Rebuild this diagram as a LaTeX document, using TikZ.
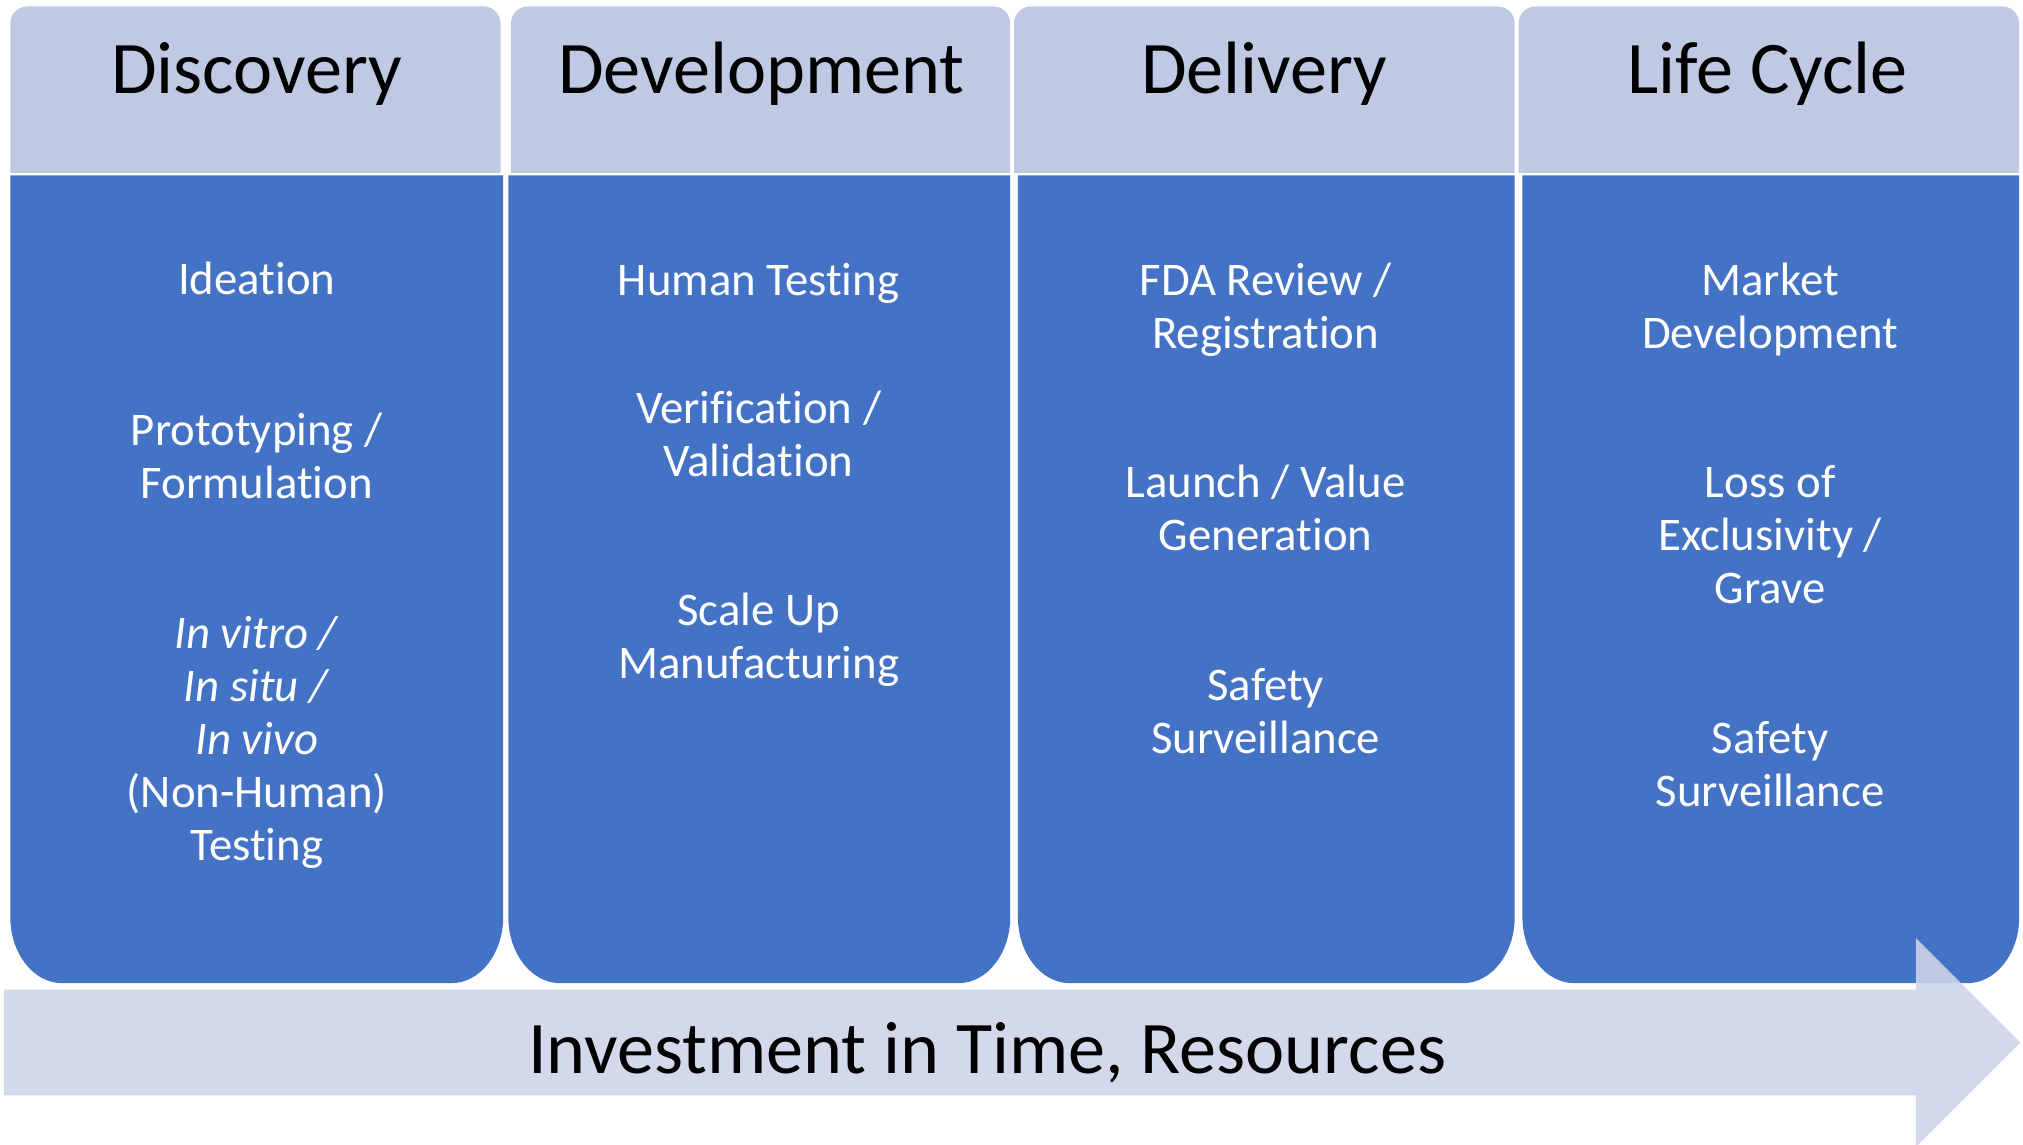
\documentclass[tikz,border=0pt]{standalone}
\usepackage{fontspec}
\setmainfont{Carlito}[Ligatures={NoCommon,NoRequired,NoContextual}]
\definecolor{hdrfill}{RGB}{191,201,227}
\definecolor{bodyfill}{RGB}{68,114,196}
\definecolor{arrowfill}{RGB}{206,212,233}
\begin{document}
\begin{tikzpicture}[x=0.0129cm,y=-0.0129cm,
  hdrshape/.style={fill=hdrfill},
  bodyshape/.style={fill=bodyfill},
  hdrtext/.style={text=black,inner sep=0pt,anchor=base,font=\fontsize{21.1pt}{25pt}\selectfont},
  bodytext/.style={text=white,inner sep=0pt,align=center,font=\fontsize{13.3pt}{15.1pt}\selectfont},
  arrowtext/.style={text=black,inner sep=0pt,anchor=base,font=\fontsize{21.1pt}{25pt}\selectfont}]
\useasboundingbox[fill=white] (0,0) rectangle (1568,887);

% headers
\foreach \a/\b in {8/388, 396/783, 786/1174, 1177/1565}{
  \path[hdrshape] (\a,134) [rounded corners=0.17cm] -- (\a,5) -- (\b,5) [sharp corners] -- (\b,134) -- cycle;
}
% bodies
\foreach \a/\b in {8/390, 394/783, 789/1174, 1180/1565}{
  \path[bodyshape] (\a,136) -- (\a,711) .. controls (\a,739) and ({\a+18},762) .. ({\a+40},762)
    -- ({\b-40},762) .. controls ({\b-18},762) and (\b,739) .. (\b,711) -- (\b,136) -- cycle;
}

% header texts
\node[hdrtext] (h1) at (199,72.5) {Discovery};
\node[hdrtext] (h2) at (590,72.5) {Development};
\node[hdrtext] (h3) at (980,72.5) {Delivery};
\node[hdrtext] (h4) at (1370,72.5) {Life Cycle};

% Discovery
\node[bodytext] (d1) at (199,216) {Ideation};
\node[bodytext] (d2) at (199,353.5) {Prototyping /\\Formulation};
\node[bodytext] (d3) at (199,575.5) {\textit{In vitro /}\\\textit{In situ /}\\\textit{In vivo}\\(Non-Human)\\Testing};
% Development
\node[bodytext] (v1) at (588,219.5) {Human Testing};
\node[bodytext] (v2) at (588,336) {Verification /\\Validation};
\node[bodytext] (v3) at (588,496) {Scale Up\\Manufacturing};
% Delivery
\node[bodytext] (l1) at (981,240) {FDA Review /\\Registration};
\node[bodytext] (l2) at (981,394) {Launch / Value\\Generation};
\node[bodytext] (l3) at (981,551.5) {Safety\\Surveillance};
% Life Cycle
\node[bodytext] (c1) at (1372,240) {Market\\Development};
\node[bodytext] (c2) at (1372,414.5) {Loss of\\Exclusivity /\\Grave};
\node[bodytext] (c3) at (1372,592) {Safety\\Surveillance};

% arrow
\path[fill=arrowfill,fill opacity=0.89] (3,767) -- (1485,767) -- (1485,727) -- (1566,808)
  -- (1485,889) -- (1485,849) -- (3,849) -- cycle;
\node[arrowtext] (arr) at (765,832) {Investment in Time, Resources};
\end{tikzpicture}
\end{document}
